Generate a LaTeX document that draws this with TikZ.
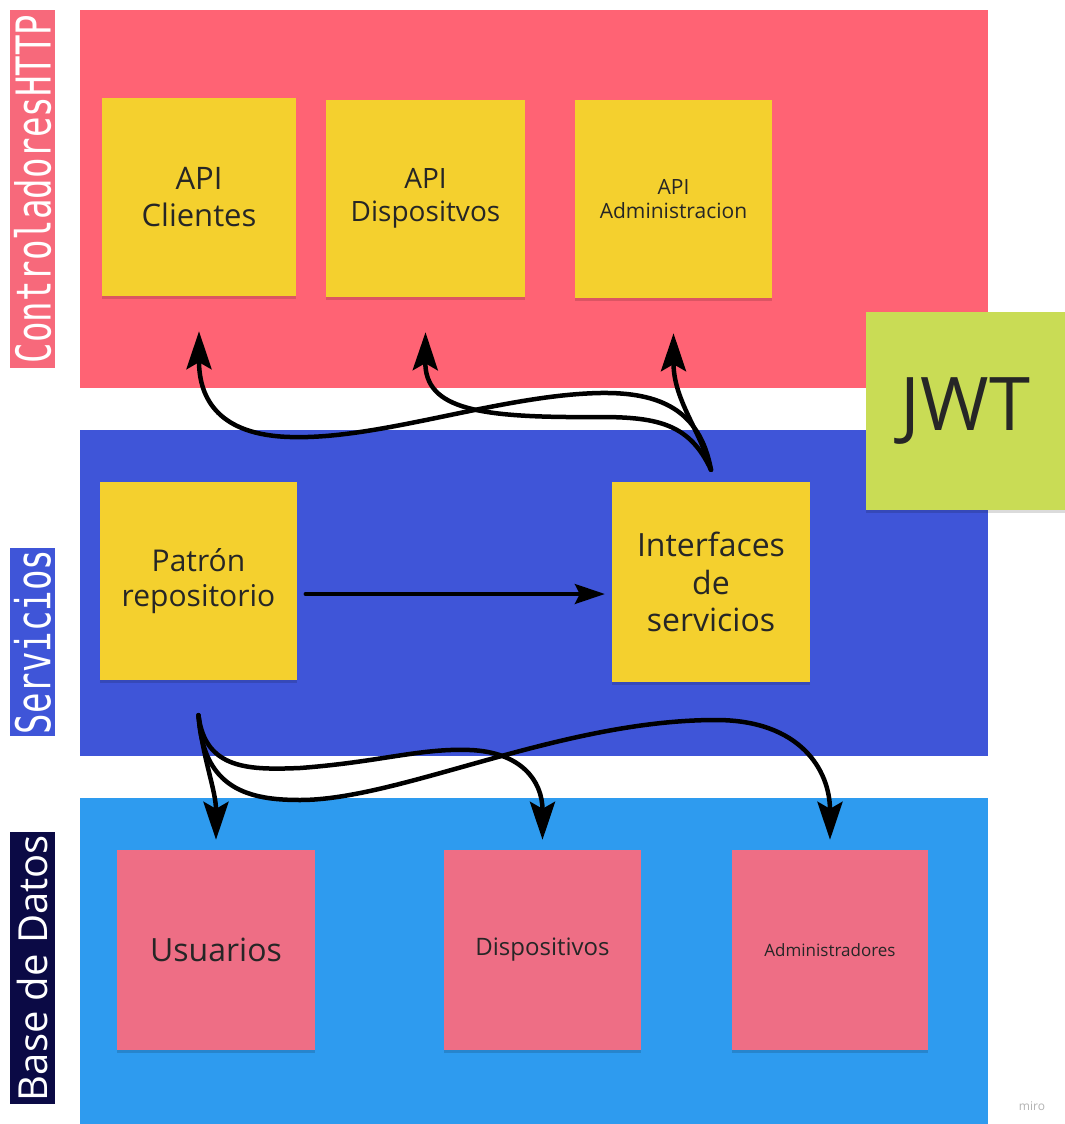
\documentclass[tikz,border=0pt]{standalone}
\usepackage{fontspec}
\usepackage{graphicx}
\setmainfont{Open Sans}
\newfontfamily\monofont{DejaVu Sans Mono}
\usetikzlibrary{arrows.meta,shadows}

\definecolor{ctrlred}{HTML}{FF6374}
\definecolor{lblred}{HTML}{F7697B}
\definecolor{servblue}{HTML}{3F55D8}
\definecolor{dbblue}{HTML}{2E9BEF}
\definecolor{noteyellow}{HTML}{F4D02E}
\definecolor{notepink}{HTML}{EE6E85}
\definecolor{jwtgreen}{HTML}{C9DC55}
\definecolor{navy}{HTML}{0B0A45}
\definecolor{ink}{HTML}{262626}

\tikzset{
  note/.style={fill=noteyellow, inner sep=0pt, align=center, text=ink,
    drop shadow={shadow xshift=0pt, shadow yshift=-3pt, opacity=.14, fill=black}},
  pinknote/.style={note, fill=notepink},
  layerlbl/.style={rotate=90, inner sep=0pt, minimum height=45pt, text=white},
  flow/.style={line width=4.5pt, -{Stealth[length=38pt, width=25pt, inset=7pt]}},
  flowthin/.style={line width=3.2pt, -{Stealth[length=30pt, width=20pt, inset=5pt]}}
}
\newcommand{\fsz}[1]{\fontsize{#1}{1.17\dimexpr #1pt\relax}\selectfont}

\begin{document}
\begin{tikzpicture}[x=1pt, y=-1pt, line join=round, line cap=round]
  \useasboundingbox (0,0) rectangle (1065,1124);
  % capas
  \fill[ctrlred] (80,10) rectangle (988,388);
  \fill[servblue] (80,430) rectangle (988,756);
  \fill[dbblue] (80,798) rectangle (988,1124);
  % etiquetas de capa
  \node[layerlbl, fill=lblred, minimum width=358pt] (lblctrl) at (32.5,189)
    {\scalebox{0.71}[1]{\monofont\fontsize{48}{48}\selectfont ControladoresHTTP}};
  \node[layerlbl, fill=servblue, minimum width=188pt] (lblserv) at (32.5,642)
    {\scalebox{0.71}[1]{\monofont\fontsize{48}{48}\selectfont Servicios}};
  \node[layerlbl, fill=navy, minimum width=272pt] (lbldb) at (32.5,968)
    {\fontsize{40}{40}\selectfont Base de Datos};
  % controladores
  \node[note, minimum width=194pt, minimum height=198pt, font=\fsz{31}] (apicli) at (199,197) {API\\Clientes};
  \node[note, minimum width=199pt, minimum height=197pt, font=\fsz{28}] (apidis) at (425.5,198.5) {API\\Dispositvos};
  \node[note, minimum width=197pt, minimum height=198pt, font=\fsz{21}] (apiadm) at (673.5,199) {API\\Administracion};
  % servicios
  \node[note, minimum width=197pt, minimum height=198pt, font=\fsz{30}] (patron) at (198.5,581) {Patrón\\repositorio};
  \node[note, minimum width=198pt, minimum height=200pt, font=\fsz{32}] (interf) at (711,582) {Interfaces\\de\\servicios};
  % base de datos
  \node[pinknote, minimum width=198pt, minimum height=200pt, font=\fsz{32}] (usu) at (216,950) {Usuarios};
  \node[pinknote, minimum width=197pt, minimum height=200pt, font=\fsz{24}] (dis) at (542.5,950) {Dispositivos};
  \node[pinknote, minimum width=196pt, minimum height=200pt, font=\fsz{17}] (adm) at (830,950) {Administradores};
  % jwt
  \node[note, fill=jwtgreen, minimum width=199pt, minimum height=198pt, font=\fsz{74}] (jwt) at (965.5,411) {JWT};
  % puntos de las flechas
  \coordinate (isrc) at ([yshift=12pt]interf.north);
  \coordinate (psrc) at ([yshift=-35pt]patron.south);
  \coordinate (pout) at ([xshift=8pt,yshift=-13pt]patron.east);
  \coordinate (iin) at ([xshift=-7pt,yshift=-12pt]interf.west);
  \draw[flowthin] (pout) -- (iin);
  \draw[flow] (isrc) .. controls (700,410) and (660,392) .. (600,393)
    .. controls (500,395) and (380,440) .. (290,437)
    .. controls (220,435) and (199,400) .. ([yshift=-35pt]apicli.south);
  \draw[flow] (isrc) .. controls (690,425) and (660,417) .. (600,417)
    .. controls (480,418) and (425,410) .. ([yshift=-35pt]apidis.south);
  \draw[flow] (isrc) .. controls (700,430) and (673.5,400) .. ([yshift=-35pt]apiadm.south);
  \draw[flow] (psrc) .. controls (203,760) and (216,790) .. ([yshift=10pt]usu.north);
  \draw[flow] (psrc) .. controls (205,770) and (250,770) .. (300,768)
    .. controls (380,762) and (420,748) .. (470,750)
    .. controls (520,752) and (542.5,780) .. ([yshift=10pt]dis.north);
  \draw[flow] (psrc) .. controls (203,790) and (250,800) .. (300,800)
    .. controls (400,800) and (560,720) .. (716,720)
    .. controls (800,720) and (830,770) .. ([yshift=10pt]adm.north);
  \node[text=black!30, font=\fsz{12}] (miro) at (1032,1106) {miro};
\end{tikzpicture}
\end{document}
